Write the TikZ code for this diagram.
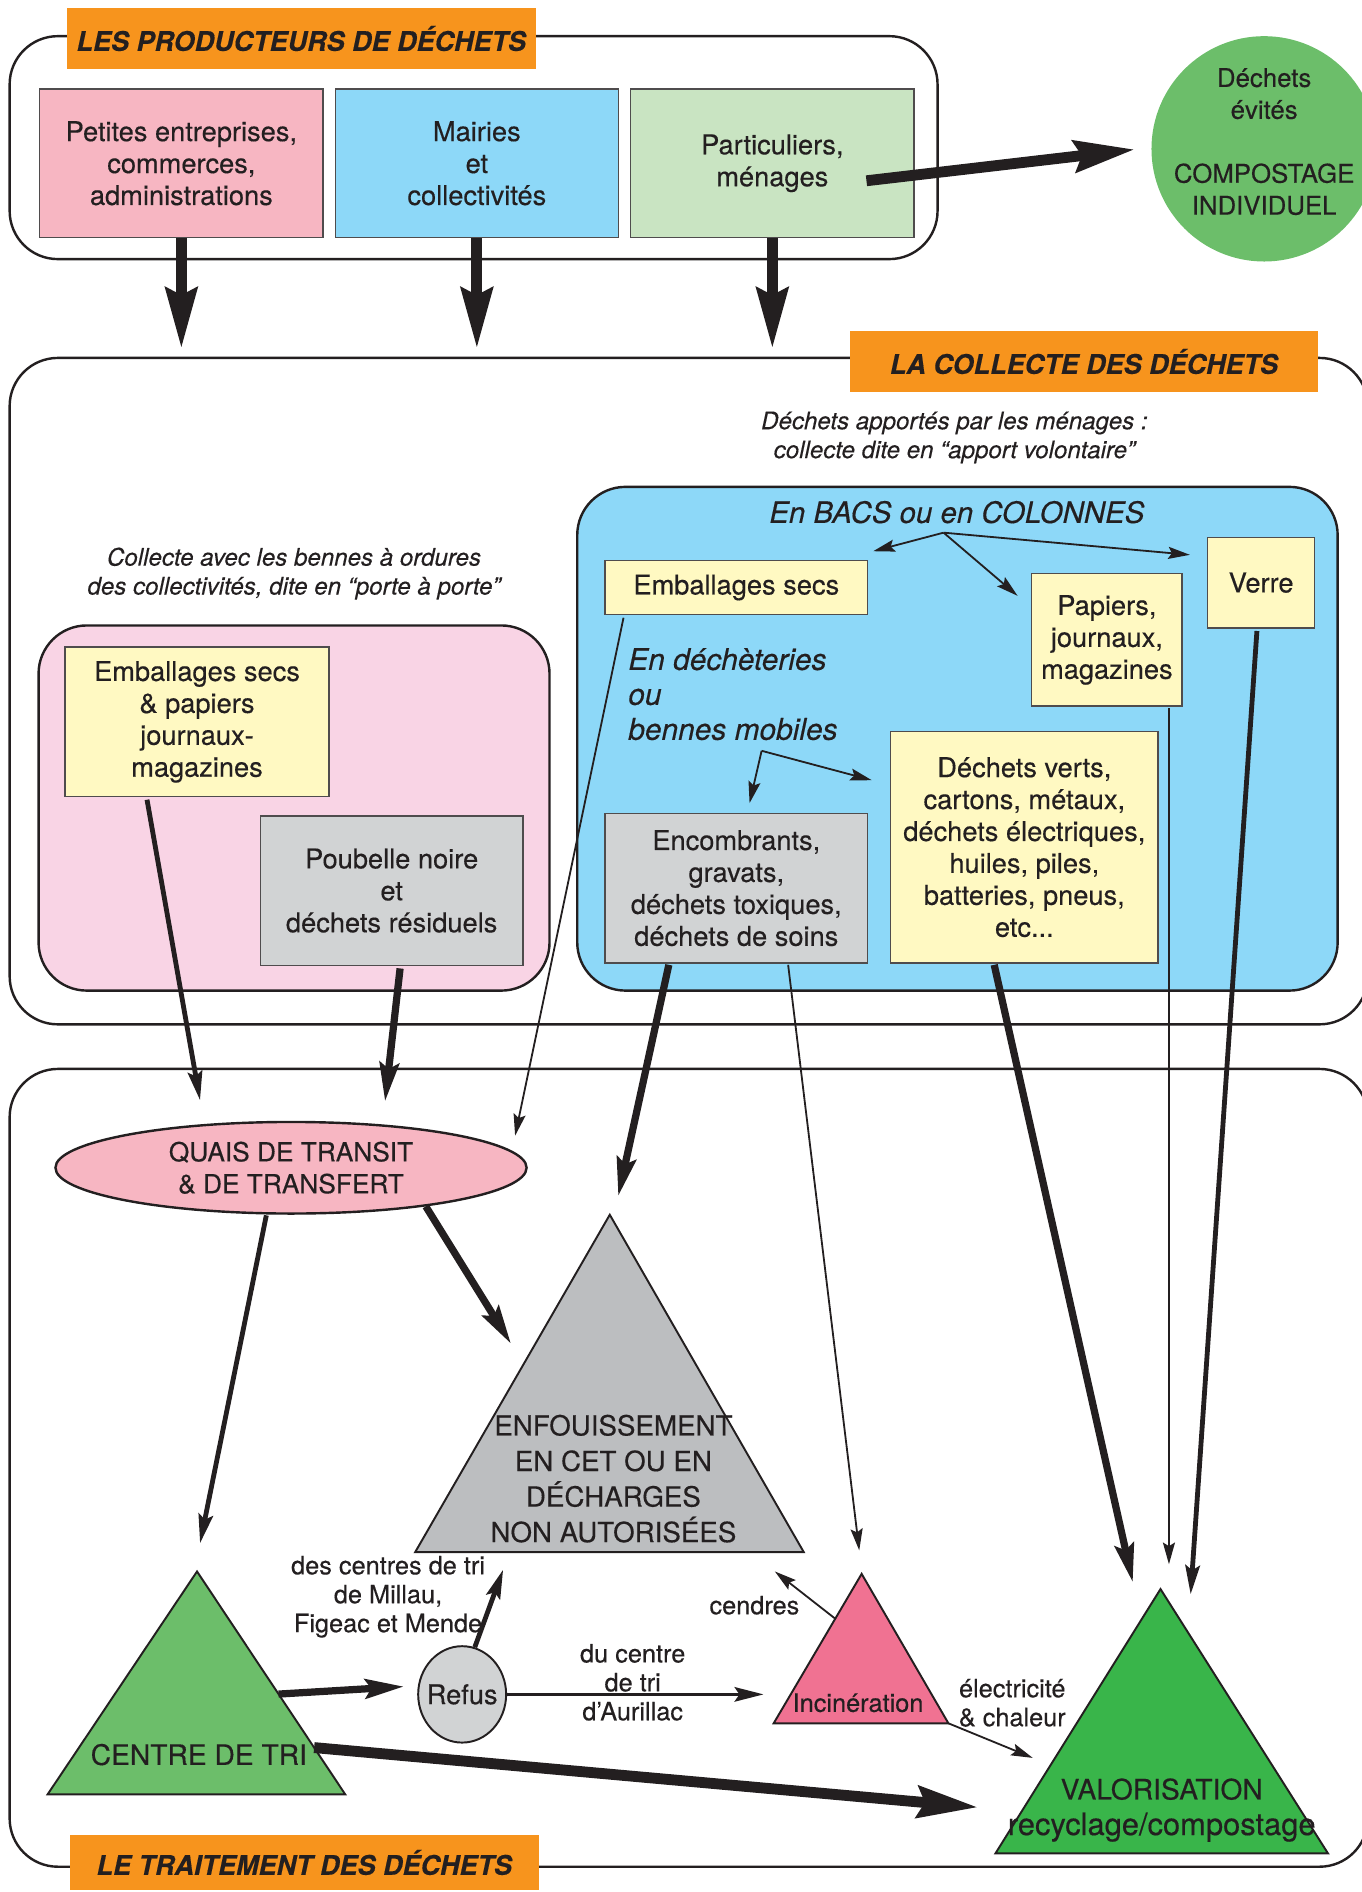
\documentclass[tikz,border=0pt]{standalone}
\usepackage{fontspec}
\setmainfont{TeX Gyre Heros}[FakeBold=0.35]
\usepackage{tikz}
\usetikzlibrary{positioning}
\usetikzlibrary{arrows.meta}
\usetikzlibrary{shapes.geometric}
\usetikzlibrary{calc}

\definecolor{inkDark}{HTML}{231F20}
\definecolor{titleOrange}{HTML}{F7941D}
\definecolor{pinkBox}{HTML}{F7B6C2}
\definecolor{blueBox}{HTML}{8DD8F8}
\definecolor{greenPale}{HTML}{C9E4C2}
\definecolor{greenMid}{HTML}{6CBE6A}
\definecolor{greenDeep}{HTML}{39B54A}
\definecolor{pinkZone}{HTML}{F9D4E5}
\definecolor{yellowBox}{HTML}{FFF9C2}
\definecolor{grayBox}{HTML}{D1D3D4}
\definecolor{grayTri}{HTML}{BCBEC0}
\definecolor{pinkTri}{HTML}{F07292}

\newcommand{\boxfont}{\fontsize{11.3}{13.25}\selectfont}
\newcommand{\notefont}{\fontsize{10}{12}\selectfont\itshape}
\newcommand{\bigfont}{\fontsize{11.7}{14.75}\selectfont}
\newcommand{\labelfont}{\fontsize{10.5}{12}\selectfont}

\tikzset{
  zoneframe/.style={draw=inkDark, line width=1pt, rounded corners=20pt, inner sep=0pt},
  zone/.style={draw=inkDark, line width=1pt, rounded corners=20pt, inner sep=0pt},
  titlebox/.style={fill=titleOrange, inner sep=0pt, minimum width=194.5pt, minimum height=25pt,
    text=inkDark, font=\fontsize{11.2}{13}\selectfont\bfseries\itshape},
  rectbox/.style={draw=inkDark!80, line width=0.6pt, inner sep=0pt, align=center,
    text=inkDark, font=\boxfont},
  notetext/.style={align=center, inner sep=0pt, text=inkDark, font=\notefont},
  labeltext/.style={align=center, inner sep=0pt, text=inkDark, font=\labelfont},
  bigtext/.style={align=center, inner sep=0pt, text=inkDark, font=\bigfont},
  tri/.style={draw=inkDark, line width=0.8pt, line join=miter},
  bigarrow/.style={draw=inkDark, line width=4.5pt, -{Stealth[length=25pt,width=13pt,inset=3pt]}},
  thickarrow/.style={draw=inkDark, line width=3pt, -{Stealth[length=16pt,width=8pt,inset=2.5pt]}},
  midarrow/.style={draw=inkDark, line width=2pt, -{Stealth[length=12pt,width=6pt,inset=2pt]}},
  thinarrow/.style={draw=inkDark, line width=0.75pt, -{Stealth[length=9pt,width=5pt,inset=1.5pt]}}
}

\begin{document}
\begin{tikzpicture}[x=0.5pt, y=-0.5pt]
\useasboundingbox (0,0) rectangle (1130,1570);

% les producteurs
\node[zoneframe, minimum width=385pt, minimum height=92.5pt] (prodFrame) at (393,122.5) {};
\node[titlebox] (prodTitle) at (250,32) {LES PRODUCTEURS DE DÉCHETS};
\node[rectbox, fill=pinkBox, minimum width=117.5pt, minimum height=61.5pt] (rectPME) at (150.5,135.5) {Petites entreprises,\\commerces,\\administrations};
\node[rectbox, fill=blueBox, minimum width=117.5pt, minimum height=61.5pt, right=4.5pt of rectPME] (rectMairies) {Mairies\\et\\collectivités};
\node[rectbox, fill=greenPale, minimum width=117.5pt, minimum height=61.5pt, right=4.5pt of rectMairies] (rectMenages) {Particuliers,\\ménages};
\node[circle, fill=greenMid, minimum size=93.5pt, inner sep=0pt,
  label={[align=center, text=inkDark, font=\fontsize{10.7}{13.25}\selectfont, yshift=3pt]center:Déchets\\évités\\[13.25pt]COMPOSTAGE\\INDIVIDUEL}] (circCompost) at (1049,123.5) {};

% la collecte
\node[zoneframe, minimum width=563.5pt, minimum height=276.5pt] (collFrame) at (571.5,573.5) {};
\node[titlebox] (collTitle) at (899.5,300) {LA COLLECTE DES DÉCHETS};
\node[notetext] (noteApport) at (792,363) {Déchets apportés par les ménages :\\collecte dite en “apport volontaire”};
\node[zone, fill=blueBox, minimum width=315.5pt, minimum height=209pt] (zoneBacs) at (794.5,613) {};
\node[inner sep=0pt, text=inkDark, font=\fontsize{12.2}{14.5}\selectfont\itshape] (labelBacs) at (794,425) {En BACS ou en COLONNES};
\node[rectbox, fill=yellowBox, minimum width=109pt, minimum height=22.5pt] (rectEmbSecs) at (611,487.5) {Emballages secs};
\node[rectbox, fill=yellowBox, minimum width=62.5pt, minimum height=55pt] (rectPapiers) at (918.5,531) {Papiers,\\journaux,\\magazines};
\node[rectbox, fill=yellowBox, minimum width=44.5pt, minimum height=37.5pt] (rectVerre) at (1046.5,483.5) {Verre};
\node[anchor=west, align=left, inner sep=0pt, text=inkDark, font=\fontsize{12.4}{14.5}\selectfont\itshape] (labelDechet) at (521,576) {En déchèteries\\ou\\bennes mobiles};
\node[rectbox, fill=grayBox, minimum width=109pt, minimum height=62pt] (rectEncomb) at (611,737) {Encombrants,\\gravats,\\déchets toxiques,\\déchets de soins};
\node[rectbox, fill=yellowBox, minimum width=111pt, minimum height=96pt] (rectVerts) at (850,703) {Déchets verts,\\cartons, métaux,\\déchets électriques,\\huiles, piles,\\batteries, pneus,\\etc...};
\node[notetext] (notePorte) at (244,476) {Collecte avec les bennes à ordures\\des collectivités, dite en “porte à porte”};
\node[zone, fill=pinkZone, minimum width=212pt, minimum height=151.5pt] (zonePorte) at (244,670.5) {};
\node[rectbox, fill=yellowBox, minimum width=109.5pt, minimum height=62pt] (rectEmbPap) at (163.5,599) {Emballages secs\\\& papiers\\journaux-\\magazines};
\node[rectbox, fill=grayBox, minimum width=109pt, minimum height=62pt] (rectPoubelle) at (325,739) {Poubelle noire\\et\\déchets résiduels};

\coordinate (bacsFork) at (783,442);
\coordinate (dechFork) at (632,623);
\draw[thinarrow] (bacsFork) -- ([shift={(4,-7)}]rectEmbSecs.north east);
\draw[thinarrow] (bacsFork) -- ([shift={(-11,19)}]rectPapiers.north west);
\draw[thinarrow] (bacsFork) -- ([shift={(-14,15)}]rectVerre.north west);
\draw[thinarrow] (dechFork) -- ([shift={(11,-8)}]rectEncomb.north);
\draw[thinarrow] (dechFork) -- ([shift={(-15,41)}]rectVerts.north west);

% le traitement
\node[zoneframe, minimum width=563.5pt, minimum height=331pt] (traitFrame) at (571.5,1218) {};
\node[titlebox, minimum height=22.5pt] (traitTitle) at (252.5,1545.5) {LE TRAITEMENT DES DÉCHETS};
\node[ellipse, draw=inkDark, line width=1pt, fill=pinkBox, minimum width=195.5pt, minimum height=38pt, inner sep=0pt, align=center, text=inkDark, font=\fontsize{10.9}{13.25}\selectfont] (ellQuais) at (241.5,969) {QUAIS DE TRANSIT\\\& DE TRANSFERT};

\coordinate (enfTop) at (506,1008);
\coordinate (enfLeft) at (344.5,1288);
\coordinate (enfRight) at (667,1288);
\coordinate (ctriTop) at (163.5,1304);
\coordinate (ctriLeft) at (39.5,1489);
\coordinate (ctriRight) at (286.5,1489);
\coordinate (incTop) at (715,1306);
\coordinate (incLeft) at (642,1430);
\coordinate (incRight) at (787,1430);
\coordinate (valTop) at (963,1318.6);
\coordinate (valLeft) at (826,1538);
\coordinate (valRight) at (1102,1538);

\draw[tri, fill=grayTri] (enfTop) -- (enfRight) -- (enfLeft) -- cycle;
\draw[tri, fill=greenMid] (ctriTop) -- (ctriRight) -- (ctriLeft) -- cycle;
\draw[tri, fill=pinkTri] (incTop) -- (incRight) -- (incLeft) -- cycle;
\draw[tri, fill=greenDeep] (valTop) -- (valRight) -- (valLeft) -- cycle;
\node[ellipse, draw=inkDark, line width=0.8pt, fill=grayBox, minimum width=36.5pt, minimum height=40pt, inner sep=0pt, label={[font=\boxfont, text=inkDark]center:Refus}] (ellRefus) at (383.5,1406) {};

\node[bigtext, font=\fontsize{11.5}{14.75}\selectfont] (textEnf) at (509,1227) {ENFOUISSEMENT\\EN CET OU EN\\DÉCHARGES\\NON AUTORISÉES};
\node[bigtext] (textCtri) at (165,1456) {CENTRE DE TRI};
\node[labeltext] (textInc) at (712,1413) {Incinération};
\node[bigtext, font=\fontsize{11.7}{14.75}\selectfont] (textVal) at (964,1502) {VALORISATION\\{\fontsize{12.8}{14.75}\selectfont recyclage/compostage}};
\node[labeltext] (labelMillau) at (322,1325) {des centres de tri\\de Millau,\\Figeac et Mende};
\node[labeltext] (labelAurillac) at (525,1396) {du centre\\de tri\\d’Aurillac};
\node[labeltext] (labelCendres) at (626,1332) {cendres};
\node[labeltext] (labelElec) at (840,1413) {électricité\\\& chaleur};

\coordinate (ctriEdgeA) at ($(ctriTop)!0.55!(ctriRight)$);
\coordinate (ctriEdgeB) at ($(ctriTop)!0.79!(ctriRight)$);
\coordinate (incEdge) at ($(incTop)!0.3!(incLeft)$);

% les fleches
\foreach \src in {rectPME,rectMairies,rectMenages}
  \draw[bigarrow, shorten >=3.5pt] (\src.south) -- (\src.south |- collFrame.north);
\draw[bigarrow] ([shift={(-40,14.5)}]rectMenages.east) -- ([shift={(-13.5,0.5)}]circCompost.west);

\draw[midarrow] ([shift={(-41.5,2)}]rectEmbPap.south) -- ([shift={(-75.5,-17)}]ellQuais.north);
\draw[thickarrow] ([shift={(7,2)}]rectPoubelle.south) -- ([shift={(78,-16)}]ellQuais.north);
\draw[thinarrow] ([shift={(16,2)}]rectEmbSecs.south west) -- ([shift={(47,1)}]ellQuais.north east);
\draw[thickarrow] ([shift={(-56,1)}]rectEncomb.south) -- ([shift={(7,-15.5)}]enfTop);
\draw[thinarrow] ([shift={(43,1)}]rectEncomb.south) -- ([shift={(-2,-19.5)}]incTop);
\draw[thickarrow] ([shift={(-25,1)}]rectVerts.south) -- ([shift={(-23,-5.6)}]valTop);
\draw[thinarrow] ([shift={(51.5,1)}]rectPapiers.south) -- ([shift={(7,-20.6)}]valTop);
\draw[midarrow] ([shift={(-3.5,2)}]rectVerre.south) -- ([shift={(25,4.4)}]valTop);

\draw[midarrow] ([shift={(-20.5,0.5)}]ellQuais.south) -- ([shift={(2.5,-23.4)}]ctriTop);
\draw[thickarrow] (ellQuais.-16) -- ([shift={(-82,107)}]enfTop);
\draw[thickarrow] (ctriEdgeA) -- ([shift={(-11,-6.5)}]ellRefus.west);
\draw[bigarrow] (ctriEdgeB) -- ([shift={(-14.5,-38.3)}]valLeft);
\draw[midarrow] (ellRefus.75) -- ([shift={(73,14.5)}]enfLeft);
\draw[midarrow, line width=1.4pt] (ellRefus.east) -- ([shift={(-8.4,-24)}]incLeft);
\draw[thinarrow] (incEdge) -- ([shift={(-72,-2)}]incTop);
\draw[thinarrow] (incRight) -- ([shift={(70,28.7)}]incRight);

\end{tikzpicture}
\end{document}
